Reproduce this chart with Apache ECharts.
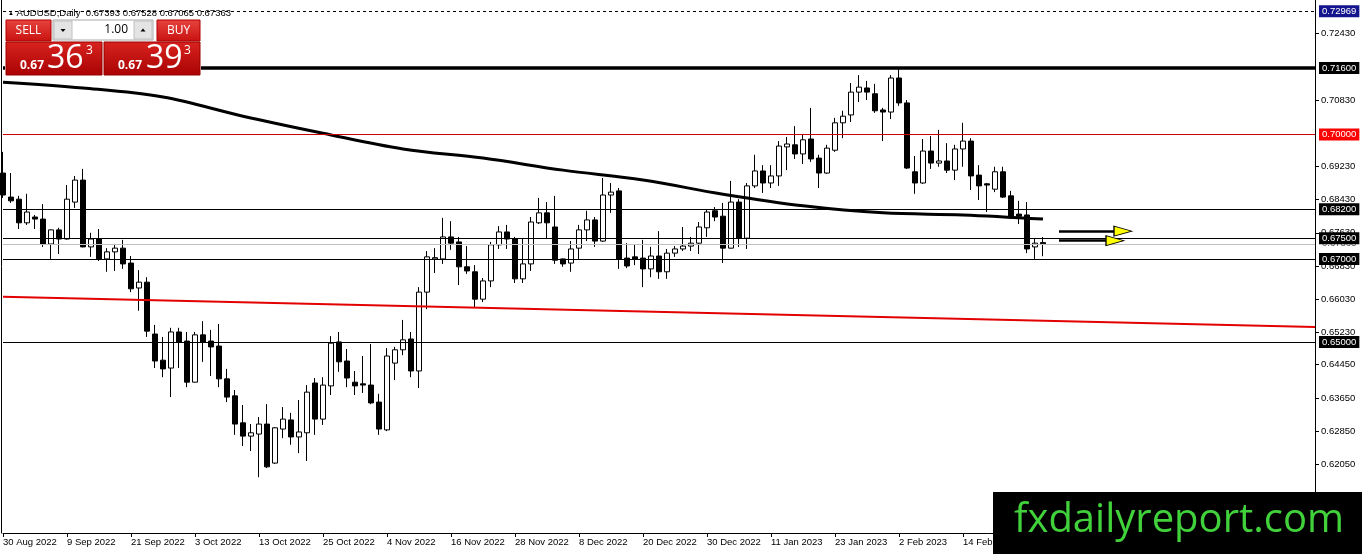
<!DOCTYPE html>
<html>
<head>
<meta charset="utf-8">
<script src="https://cdn.jsdelivr.net/npm/echarts@6/dist/echarts.min.js"></script>
<style>html,body{margin:0;padding:0;background:#fff;}#c{width:1362px;height:554px;}</style>
</head>
<body>
<div id="c"></div>
<script>
// ---- data ----
const tickLabels = ['30 Aug 2022','9 Sep 2022','21 Sep 2022','3 Oct 2022','13 Oct 2022','25 Oct 2022','4 Nov 2022','16 Nov 2022','28 Nov 2022','8 Dec 2022','20 Dec 2022','30 Dec 2022','11 Jan 2023','23 Jan 2023','2 Feb 2023','14 Feb 2023','24 Feb 2023'];
// candles: [open, close, low, high]
const candles = [
[0.6907,0.6854,0.6847,0.6958],[0.6849,0.6840,0.6835,0.6907],[0.6844,0.6787,0.6772,0.6852],[0.6787,0.6813,0.6782,0.6857],
[0.6801,0.6796,0.6772,0.6806],[0.6796,0.6736,0.6729,0.6832],[0.6736,0.6770,0.6700,0.6771],[0.6770,0.6748,0.6712,0.6775],
[0.6748,0.6844,0.6747,0.6878],[0.6837,0.6890,0.6823,0.6900],[0.6890,0.6729,0.6728,0.6917],[0.6729,0.6748,0.6705,0.6763],
[0.6748,0.6700,0.6695,0.6772],[0.6700,0.6717,0.6669,0.6726],[0.6717,0.6726,0.6671,0.6736],[0.6726,0.6688,0.6676,0.6746],
[0.6690,0.6628,0.6620,0.6707],[0.6630,0.6644,0.6575,0.6673],[0.6644,0.6526,0.6512,0.6656],[0.6519,0.6454,0.6437,0.6541],
[0.6456,0.6435,0.6415,0.6512],[0.6437,0.6524,0.6367,0.6534],[0.6524,0.6500,0.6437,0.6534],[0.6502,0.6403,0.6391,0.6524],
[0.6403,0.6517,0.6402,0.6524],[0.6517,0.6500,0.6452,0.6550],[0.6502,0.6488,0.6418,0.6529],[0.6490,0.6411,0.6391,0.6543],
[0.6411,0.6367,0.6355,0.6435],[0.6370,0.6302,0.6276,0.6384],[0.6305,0.6273,0.6249,0.6348],[0.6273,0.6281,0.6237,0.6302],
[0.6278,0.6302,0.6174,0.6319],[0.6302,0.6199,0.6196,0.6350],[0.6208,0.6293,0.6206,0.6295],[0.6290,0.6314,0.6268,0.6343],
[0.6312,0.6271,0.6252,0.6329],[0.6271,0.6283,0.6232,0.6360],[0.6281,0.6379,0.6213,0.6396],[0.6401,0.6314,0.6276,0.6413],
[0.6314,0.6396,0.6300,0.6415],[0.6394,0.6497,0.6372,0.6514],[0.6500,0.6452,0.6428,0.6524],[0.6454,0.6413,0.6391,0.6483],
[0.6403,0.6394,0.6372,0.6430],[0.6399,0.6396,0.6377,0.6466],[0.6396,0.6353,0.6350,0.6495],[0.6355,0.6290,0.6276,0.6375],
[0.6288,0.6466,0.6285,0.6485],[0.6449,0.6481,0.6408,0.6488],[0.6481,0.6505,0.6468,0.6553],[0.6507,0.6430,0.6415,0.6524],
[0.6430,0.6620,0.6389,0.6632],[0.6620,0.6705,0.6579,0.6719],[0.6700,0.6703,0.6666,0.6726],[0.6700,0.6753,0.6688,0.6799],
[0.6753,0.6738,0.6722,0.6791],[0.6741,0.6681,0.6637,0.6753],[0.6681,0.6671,0.6664,0.6731],[0.6669,0.6603,0.6584,0.6685],
[0.6603,0.6647,0.6596,0.6654],[0.6647,0.6734,0.6632,0.6741],[0.6734,0.6765,0.6724,0.6779],[0.6765,0.6748,0.6724,0.6782],
[0.6748,0.6652,0.6642,0.6753],[0.6652,0.6688,0.6642,0.6750],[0.6688,0.6789,0.6671,0.6801],[0.6787,0.6811,0.6784,0.6847],
[0.6811,0.6787,0.6748,0.6837],[0.6777,0.6697,0.6688,0.6852],[0.6700,0.6688,0.6681,0.6701],[0.6690,0.6724,0.6669,0.6743],
[0.6726,0.6770,0.6700,0.6782],[0.6770,0.6794,0.6743,0.6816],[0.6794,0.6743,0.6729,0.6801],[0.6743,0.6854,0.6741,0.6895],
[0.6854,0.6861,0.6811,0.6883],[0.6864,0.6700,0.6676,0.6871],[0.6702,0.6683,0.6678,0.6738],[0.6705,0.6700,0.6685,0.6734],
[0.6702,0.6676,0.6632,0.6746],[0.6676,0.6707,0.6656,0.6729],[0.6707,0.6669,0.6652,0.6767],[0.6669,0.6714,0.6652,0.6724],
[0.6714,0.6724,0.6705,0.6731],[0.6724,0.6731,0.6719,0.6777],[0.6731,0.6738,0.6719,0.6753],[0.6738,0.6777,0.6712,0.6789],
[0.6775,0.6813,0.6753,0.6820],[0.6816,0.6801,0.6791,0.6825],[0.6803,0.6726,0.6690,0.6835],[0.6726,0.6837,0.6725,0.6888],
[0.6837,0.6750,0.6729,0.6844],[0.6750,0.6876,0.6724,0.6883],[0.6876,0.6912,0.6871,0.6951],[0.6912,0.6883,0.6859,0.6926],
[0.6883,0.6900,0.6871,0.6926],[0.6900,0.6972,0.6876,0.6984],[0.6970,0.6977,0.6914,0.6994],[0.6975,0.6953,0.6941,0.7020],
[0.6953,0.6987,0.6929,0.6999],[0.6989,0.6941,0.6934,0.7064],[0.6943,0.6907,0.6871,0.6951],[0.6907,0.6967,0.6905,0.6975],
[0.6962,0.7028,0.6958,0.7040],[0.7028,0.7044,0.6991,0.7057],[0.7047,0.7102,0.7030,0.7124],[0.7102,0.7114,0.7078,0.7143],
[0.7112,0.7102,0.7083,0.7129],[0.7098,0.7057,0.7052,0.7122],[0.7059,0.7054,0.6984,0.7064],[0.7054,0.7136,0.7037,0.7143],
[0.7136,0.7076,0.7069,0.7160],[0.7076,0.6919,0.6917,0.7083],[0.6910,0.6883,0.6857,0.6948],[0.6883,0.6960,0.6881,0.6989],
[0.6960,0.6931,0.6917,0.6996],[0.6931,0.6936,0.6922,0.7011],[0.6936,0.6914,0.6907,0.6979],[0.6914,0.6965,0.6890,0.6975],
[0.6965,0.6984,0.6922,0.7028],[0.6984,0.6900,0.6866,0.6991],[0.6902,0.6876,0.6842,0.6926],[0.6881,0.6878,0.6813,0.6883],
[0.6868,0.6910,0.6861,0.6922],[0.6910,0.6849,0.6847,0.6922],[0.6852,0.6803,0.6796,0.6864],[0.6808,0.6803,0.6784,0.6840],
[0.6806,0.6724,0.6714,0.6837],[0.6729,0.6738,0.6700,0.6750],[0.67393,0.67363,0.67065,0.67528]
];
const maIdx = [0,10,20,30,40,50,60,70,80,90,100,110,120,130];
const maVal = [0.7126,0.7112,0.7090,0.7044,0.7003,0.6965,0.6943,0.6914,0.6890,0.6856,0.6828,0.6811,0.6806,0.6796];
const yTickValues = [0.72430,0.70830,0.69230,0.68430,0.67630,0.66830,0.66030,0.65230,0.64450,0.63650,0.62850,0.62050];
const levelValues = [0.72969,0.71600,0.70000,0.68200,0.67363,0.67500,0.67000,0.65000];
const trendIdx = [0,164];
const trendVal = [0.6609,0.6536];
const arrowVal = [0.6767,0.6744];
const arrowStart = [132,132];
const arrowEnd = [139,138];
const arrowHead = [140,139];
const headerText = 'AUDUSD,Daily  0.67393 0.67528 0.67065 0.67363';

// ---- categories (trading days) ----
const totalSlots = 165;
const categories = [];
(function(){
  const d = new Date(Date.UTC(2022,7,30));
  const mon = ['Jan','Feb','Mar','Apr','May','Jun','Jul','Aug','Sep','Oct','Nov','Dec'];
  while (categories.length < totalSlots) {
    const wd = d.getUTCDay();
    if (wd !== 0 && wd !== 6) categories.push(d.getUTCDate()+' '+mon[d.getUTCMonth()]+' '+d.getUTCFullYear());
    d.setUTCDate(d.getUTCDate()+1);
  }
})();

const YMIN = 0.60395, YMAX = 0.7324;
const FONT = 'Liberation Sans';

const levelStyles = {
  '0.72969': {line:{color:'#000',width:1,type:[3,3]}, bg:'#14148c', fg:'#fff'},
  '0.716':   {line:{color:'#000',width:3.5,type:'solid'}, bg:'#000', fg:'#fff'},
  '0.7':     {line:{color:'#d00000',width:1,type:'solid'}, bg:'#ff0000', fg:'#fff'},
  '0.682':   {line:{color:'#000',width:1,type:'solid'}, bg:'#000', fg:'#fff'},
  '0.67363': {line:{color:'#c0c0c0',width:1,type:'solid'}, bg:'#fff', fg:'#555'},
  '0.675':   {line:{color:'#000',width:1,type:'solid'}, bg:'#000', fg:'#fff'},
  '0.67':    {line:{color:'#000',width:1,type:'solid'}, bg:'#000', fg:'#fff'},
  '0.65':    {line:{color:'#000',width:1,type:'solid'}, bg:'#000', fg:'#fff'}
};

const markLineData = levelValues.map(v => {
  const s = levelStyles[String(v)];
  return {
    yAxis: v,
    lineStyle: s.line,
    label: {show:true, position:'end', distance:4, formatter: v.toFixed(5),
      backgroundColor: s.bg, color: s.fg, padding:[1,3,0,3], fontSize:9.5, fontFamily:FONT, lineHeight:11}
  };
});
markLineData.push([
  {coord:[trendIdx[0], trendVal[0]], lineStyle:{color:'#e30000', width:2, type:'solid'}, label:{show:false}},
  {coord:[trendIdx[1], trendVal[1]]}
]);
for (let k = 0; k < arrowVal.length; k++) {
  markLineData.push([
    {coord:[arrowStart[k], arrowVal[k]], lineStyle:{color:'#000', width:2.5, type:'solid'}, label:{show:false}},
    {coord:[arrowEnd[k], arrowVal[k]]}
  ]);
}
const markPointData = arrowVal.map((v,k) => ({
  coord:[arrowHead[k], v], symbol:'triangle', symbolRotate:-90, symbolSize:[10,18],
  itemStyle:{color:'#ffff00', borderColor:'#000', borderWidth:1}, label:{show:false}
}));

const redGrad = (a,b) => ({type:'linear',x:0,y:0,x2:0,y2:1,colorStops:[{offset:0,color:a},{offset:1,color:b}]});

const chart = echarts.init(document.getElementById('c'), null, {renderer:'canvas'});
chart.setOption({
  animation:false,
  backgroundColor:'#fff',
  title:{
    text:'{t|▲} '+headerText, left:3, top:3,
    textStyle:{fontSize:9.5, fontWeight:'normal', color:'#000', fontFamily:FONT,
      rich:{t:{fontSize:6, color:'#000', fontFamily:FONT}}}
  },
  grid:{left:3, right:47, top:0, bottom:21, containLabel:false},
  xAxis:{
    type:'category', data:categories, boundaryGap:false,
    axisLine:{show:true, lineStyle:{color:'#000', width:1}},
    axisTick:{show:true, length:4, lineStyle:{color:'#000'}, interval:(i)=> i%8===0},
    axisLabel:{show:true, align:'left', margin:4, color:'#000', fontSize:9.5, fontFamily:FONT,
      interval:(i)=> i%8===0 && (i/8) < tickLabels.length,
      formatter:(val, i)=> tickLabels[i/8] || ''},
    splitLine:{show:false}
  },
  yAxis:[{
    type:'value', position:'right', min:YMIN, max:YMAX, scale:true,
    axisLine:{show:true, lineStyle:{color:'#000', width:1}},
    axisTick:{show:true, length:4, lineStyle:{color:'#000'}, customValues:yTickValues},
    axisLabel:{show:true, margin:6, color:'#000', fontSize:9.5, fontFamily:FONT,
      customValues:yTickValues, formatter:(v)=> v.toFixed(5)},
    splitLine:{show:false}
  },{
    type:'value', position:'left', offset:2, min:YMIN, max:YMAX,
    axisLine:{show:true, lineStyle:{color:'#000', width:1}},
    axisTick:{show:false}, axisLabel:{show:false}, splitLine:{show:false}
  }],
  series:[{
    type:'candlestick', data:candles, barWidth:5, clip:false,
    itemStyle:{color:'#fff', color0:'#000', borderColor:'#000', borderColor0:'#000', borderWidth:1},
    markLine:{silent:true, precision:5, symbol:['none','none'], animation:false, data:markLineData},
    markPoint:{silent:true, animation:false, data:markPointData}
  },{
    type:'line', data:maIdx.map((x,k)=>[x, maVal[k]]), smooth:0.35, symbol:'none',
    lineStyle:{color:'#000', width:3}, z:3
  }],
  graphic:[
    // trade panel
    {type:'rect', shape:{x:5,y:19,width:196,height:57}, style:{fill:'#fff'}, z:100},
    {type:'rect', shape:{x:6,y:20,width:45,height:21}, style:{fill:redGrad('#e8443f','#c8120f'), stroke:'#b00000', lineWidth:1}, z:101},
    {type:'text', style:{text:'SELL', x:28.5, y:30.5, fill:'#fff', font:'12px "Open Sans"', textAlign:'center', textVerticalAlign:'middle'}, z:102},
    {type:'rect', shape:{x:53,y:20,width:100,height:20}, style:{fill:'#fff', stroke:'#a8a8a8', lineWidth:1}, z:101},
    {type:'rect', shape:{x:54,y:21,width:18,height:18}, style:{fill:'#e4e4e4', stroke:'#c0c0c0', lineWidth:1}, z:102},
    {type:'polygon', shape:{points:[[60.5,29],[65.5,29],[63,32]]}, style:{fill:'#000'}, z:103},
    {type:'rect', shape:{x:134,y:21,width:18,height:18}, style:{fill:'#e4e4e4', stroke:'#c0c0c0', lineWidth:1}, z:102},
    {type:'polygon', shape:{points:[[140.5,31.5],[145.5,31.5],[143,28.5]]}, style:{fill:'#000'}, z:103},
    {type:'text', style:{text:'1.00', x:128, y:30, fill:'#000', font:'12px "Open Sans"', textAlign:'right', textVerticalAlign:'middle'}, z:102},
    {type:'rect', shape:{x:157,y:20,width:43,height:21}, style:{fill:redGrad('#e8443f','#c8120f'), stroke:'#b00000', lineWidth:1}, z:101},
    {type:'text', style:{text:'BUY', x:178.5, y:30.5, fill:'#fff', font:'12px "Open Sans"', textAlign:'center', textVerticalAlign:'middle'}, z:102},
    {type:'rect', shape:{x:6,y:42,width:96,height:33}, style:{fill:redGrad('#d9231f','#a80303'), stroke:'#9a0000', lineWidth:1}, z:101},
    {type:'text', style:{text:'0.67', x:20, y:66, fill:'#fff', font:'bold 12px "Open Sans"', textAlign:'left', textVerticalAlign:'middle'}, z:102},
    {type:'text', style:{text:'36', x:47, y:59, fill:'#fff', font:'32px "Open Sans"', textAlign:'left', textVerticalAlign:'middle'}, z:102},
    {type:'text', style:{text:'3', x:86, y:51, fill:'#fff', font:'12px "Open Sans"', textAlign:'left', textVerticalAlign:'middle'}, z:102},
    {type:'rect', shape:{x:104,y:42,width:96,height:33}, style:{fill:redGrad('#d9231f','#a80303'), stroke:'#9a0000', lineWidth:1}, z:101},
    {type:'text', style:{text:'0.67', x:118, y:66, fill:'#fff', font:'bold 12px "Open Sans"', textAlign:'left', textVerticalAlign:'middle'}, z:102},
    {type:'text', style:{text:'39', x:146, y:59, fill:'#fff', font:'32px "Open Sans"', textAlign:'left', textVerticalAlign:'middle'}, z:102},
    {type:'text', style:{text:'3', x:184, y:51, fill:'#fff', font:'12px "Open Sans"', textAlign:'left', textVerticalAlign:'middle'}, z:102},
    // logo
    {type:'rect', shape:{x:993,y:492,width:369,height:62}, style:{fill:'#000'}, z:100},
    {type:'text', style:{text:'fxdailyreport.com', x:1179, y:521, fill:'#41d13a', font:'40px "Open Sans"', textAlign:'center', textVerticalAlign:'middle'}, z:101}
  ]
});
</script>
</body>
</html>
